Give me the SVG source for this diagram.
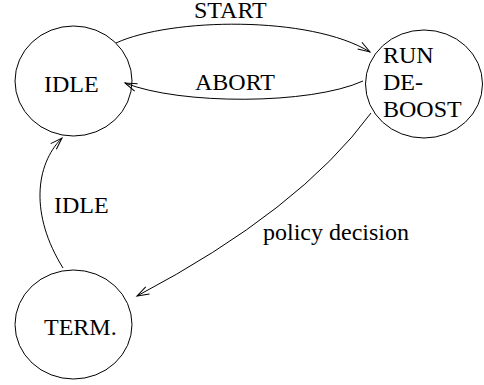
<svg xmlns="http://www.w3.org/2000/svg" width="484" height="385" viewBox="0 0 484 385">
<style>
.node{fill:none;stroke:#000;stroke-width:1}
.lbl{font-family:"Liberation Serif","Times New Roman",serif;font-size:24px;fill:#000}
.edge{fill:none;stroke:#000;stroke-width:1}
</style>
<defs>
<marker id="arr" markerUnits="userSpaceOnUse" markerWidth="16" markerHeight="12" viewBox="-14 -6 16 12" refX="0" refY="0" orient="auto">
<path d="M-12,-4 L0,0 L-12,4" fill="none" stroke="#000" stroke-width="1"/>
</marker>
</defs>
<rect width="484" height="385" fill="#fff"/>
<g id="connectors">
<g id="e-start"><path class="edge" d="M116,43 C170,18 310,15 370,52" marker-end="url(#arr)"/><text class="lbl" x="194" y="17.5">START</text></g>
<g id="e-abort"><path class="edge" d="M363,81 C310,105 180,105 125,83" marker-end="url(#arr)"/><text class="lbl" x="195" y="90">ABORT</text></g>
<g id="e-policy"><path class="edge" d="M371,113 Q300,210 137,296" marker-end="url(#arr)"/><text class="lbl" x="263" y="240">policy decision</text></g>
<g id="e-idle"><path class="edge" d="M63,268 C30,215 35,165 62,138" marker-end="url(#arr)"/><text class="lbl" x="54" y="213">IDLE</text></g>
</g>
<g id="idle"><ellipse class="node" cx="73.5" cy="81" rx="58.5" ry="55"/><text class="lbl" x="44" y="92">IDLE</text></g>
<g id="run"><ellipse class="node" cx="424" cy="84" rx="58.5" ry="54"/><text class="lbl" x="383" y="63">RUN</text><text class="lbl" x="383" y="90">DE-</text><text class="lbl" x="383" y="117">BOOST</text></g>
<g id="term"><ellipse class="node" cx="73.5" cy="324.5" rx="58.5" ry="54.5"/><text class="lbl" x="44" y="335">TERM.</text></g>
</svg>
